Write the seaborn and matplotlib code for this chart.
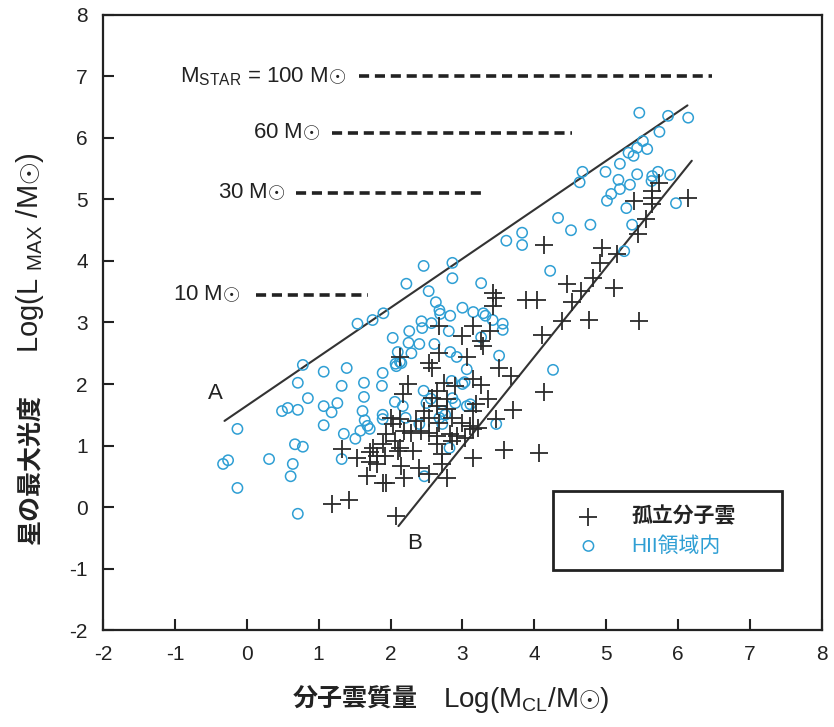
import matplotlib
matplotlib.use('Agg')
import matplotlib.pyplot as plt
import pandas as pd
import seaborn as sns

# isolated molecular clouds (+)
iso_x = [2.01, 1.94, 2.06, 1.33, 1.89, 1.75, 1.71, 1.54, 1.81, 1.92, 1.72, 1.81, 1.67,
         1.89, 1.94, 1.18, 1.42, 2.10, 3.42, 3.47, 3.42, 2.68, 3.15, 2.99, 3.38, 3.26,
         3.28, 3.06, 2.13, 2.54, 2.57, 3.51, 2.24, 2.75, 2.89, 3.14, 3.26, 2.17, 2.65,
         2.78, 2.58, 3.19, 3.35, 2.47, 2.79, 2.86, 3.14, 2.13, 2.03, 2.36, 2.54, 2.68,
         2.99, 3.10, 3.14, 3.21, 3.47, 2.19, 2.29, 2.54, 2.65, 2.82, 3.03, 2.13, 2.15,
         2.31, 2.40, 2.64, 2.72, 2.72, 3.14, 3.58, 2.19, 2.54, 2.78, 2.67, 3.67, 2.65,
         3.71, 2.43, 2.93, 2.85, 5.74, 5.64, 5.64, 5.39, 6.14, 5.63, 5.56, 5.44, 4.14,
         4.94, 5.15, 4.92, 4.81, 4.46, 4.65, 5.11, 4.53, 3.89, 4.03, 4.39, 4.76, 5.46,
         4.11, 2.07, 4.07, 4.13]
iso_y = [1.45, 1.19, 1.07, 0.94, 1.02, 0.96, 0.89, 0.80, 0.83, 0.83, 0.73, 0.70, 0.50,
         0.39, 0.39, 0.05, 0.11, 0.91, 3.48, 3.40, 3.27, 2.94, 2.94, 2.78, 2.86, 2.70,
         2.62, 2.44, 2.44, 2.34, 2.26, 2.26, 2.00, 2.02, 1.97, 2.08, 1.98, 1.84, 1.89,
         1.76, 1.77, 1.67, 1.76, 1.56, 1.59, 1.45, 1.56, 1.43, 1.35, 1.40, 1.45, 1.37,
         1.37, 1.32, 1.27, 1.28, 1.43, 1.24, 1.20, 1.20, 1.15, 1.19, 1.12, 0.96, 0.67,
         0.91, 0.63, 1.02, 0.86, 0.70, 0.80, 0.93, 0.47, 0.54, 0.47, 2.50, 2.13, 1.64,
         1.58, 1.24, 1.15, 1.07, 5.27, 5.14, 5.02, 4.98, 5.02, 4.93, 4.68, 4.44, 4.26,
         4.21, 4.11, 3.97, 3.72, 3.63, 3.51, 3.56, 3.33, 3.37, 3.37, 3.02, 3.04, 3.02,
         2.80, -0.15, 0.88, 1.87]

# clouds inside HII regions (o)
hii_x = [-0.33, -0.26, -0.13, -0.13, 0.31, 0.64, 0.61, 0.71, 0.67, 0.78, 0.49, 0.57, 0.71,
         0.78, 0.71, 0.85, 1.07, 1.39, 1.32, 1.07, 1.18, 1.26, 1.07, 1.35, 1.32, 1.63,
         1.89, 1.88, 2.03, 2.07, 1.63, 1.61, 2.06, 1.89, 1.89, 1.64, 1.68, 1.71, 1.58,
         1.51, 1.54, 1.75, 1.90, 2.46, 2.86, 2.86, 2.22, 2.53, 3.26, 2.63, 2.68, 2.69,
         3.00, 3.15, 3.29, 3.32, 3.42, 3.56, 3.56, 2.83, 2.43, 2.44, 2.57, 2.81, 2.26,
         2.25, 2.40, 2.61, 3.26, 2.10, 2.29, 2.13, 2.08, 2.15, 2.83, 2.92, 3.51, 3.06,
         3.03, 2.46, 2.56, 2.50, 2.90, 3.06, 3.11, 2.72, 2.76, 2.21, 2.40, 2.72, 2.68,
         3.47, 2.82, 2.47, 2.85, 2.86, 3.00, 2.17, 5.46, 5.86, 6.14, 5.74, 5.51, 5.43,
         5.57, 5.38, 5.31, 5.19, 4.99, 4.67, 4.63, 5.17, 5.19, 5.33, 5.43, 5.64, 5.63,
         5.72, 5.89, 5.07, 5.01, 5.28, 5.97, 5.36, 4.33, 4.51, 4.78, 3.83, 3.83, 3.61,
         4.22, 5.25, 4.26]
hii_y = [0.70, 0.76, 1.27, 0.31, 0.78, 0.70, 0.50, -0.11, 1.02, 0.98, 1.56, 1.61, 1.58,
         2.31, 2.02, 1.77, 2.20, 2.26, 1.97, 1.64, 1.54, 1.69, 1.33, 1.19, 0.78, 2.02,
         2.18, 1.97, 2.75, 2.33, 1.79, 1.56, 1.71, 1.50, 1.43, 1.41, 1.32, 1.27, 1.24,
         1.11, 2.98, 3.04, 3.15, 3.92, 3.97, 3.72, 3.63, 3.51, 3.64, 3.33, 3.20, 3.14,
         3.24, 3.17, 3.15, 3.11, 3.04, 2.98, 2.88, 3.11, 3.02, 2.91, 2.99, 2.86, 2.86,
         2.67, 2.65, 2.65, 2.76, 2.52, 2.50, 2.36, 2.29, 2.34, 2.52, 2.44, 2.46, 2.24,
         2.03, 1.89, 1.76, 1.69, 1.69, 1.64, 1.67, 1.56, 1.50, 1.45, 1.35, 1.35, 1.45,
         1.35, 0.96, 0.50, 2.05, 1.77, 2.00, 1.64, 6.41, 6.36, 6.33, 6.10, 5.95, 5.84,
         5.82, 5.71, 5.76, 5.58, 5.45, 5.45, 5.28, 5.32, 5.17, 5.24, 5.41, 5.38, 5.30,
         5.45, 5.40, 5.09, 4.98, 4.86, 4.94, 4.59, 4.70, 4.50, 4.59, 4.46, 4.26, 4.33,
         3.84, 4.16, 2.23]

# boundary lines A and B
line_a_x = [-0.31, 6.13]
line_a_y = [1.40, 6.53]
line_b_x = [2.11, 6.19]
line_b_y = [-0.31, 5.63]

# maximum luminosity of a star of given mass
mstar_labels = ['100', '60', '30', '10']
mstar_level = [7.0, 6.08, 5.11, 3.45]
mstar_start = [1.56, 1.19, 0.69, 0.13]
mstar_end = [6.47, 4.53, 3.26, 1.68]
mstar_text_x = [1.38, 1.03, 0.54, -0.09]

CROSS_COLOR = '#2b2b2b'
CIRCLE_COLOR = '#2f9fd4'
SUN = r'M$\odot$'


def _main():
    sns.set_style('white')
    plt.rcParams['font.family'] = ['Liberation Sans', 'DejaVu Sans', 'Noto Sans CJK JP']
    plt.rcParams['mathtext.fontset'] = 'custom'
    plt.rcParams['mathtext.rm'] = 'Liberation Sans'
    plt.rcParams['axes.unicode_minus'] = False

    fig = plt.figure(figsize=(8.34, 7.27), dpi=100)
    ax = fig.add_axes([0.1235, 0.1334, 0.862, 0.846])

    iso = pd.DataFrame({'x': iso_x, 'y': iso_y})
    hii = pd.DataFrame({'x': hii_x, 'y': hii_y})

    sns.scatterplot(data=hii, x='x', y='y', ax=ax, marker='o', s=55,
                    facecolor='none', edgecolor=CIRCLE_COLOR, linewidth=1.1,
                    label='HII領域内', zorder=3)
    sns.scatterplot(data=iso, x='x', y='y', ax=ax, marker='+', s=170,
                    color=CROSS_COLOR, linewidth=1.3, label='孤立分子雲', zorder=4)

    sns.lineplot(x=line_a_x, y=line_a_y, ax=ax, color='#333333', linewidth=1.5)
    sns.lineplot(x=line_b_x, y=line_b_y, ax=ax, color='#333333', linewidth=1.5)

    for lev, x0, x1 in zip(mstar_level, mstar_start, mstar_end):
        ax.plot([x0, x1], [lev, lev], color='#222222', linewidth=2.6,
                linestyle=(0, (2.8, 1.6)))
    for i, (lab, tx, lev) in enumerate(zip(mstar_labels, mstar_text_x, mstar_level)):
        lab = lab + ' ' + SUN
        if i == 0:
            lab = r'M$_{\mathregular{STAR}}$ = ' + lab
        ax.text(tx, lev, lab, ha='right', va='center', fontsize=16, color='#222222')

    ax.text(-0.44, 1.84, 'A', fontsize=16, ha='center', va='center', color='#222222')
    ax.text(2.33, -0.60, 'B', fontsize=16, ha='center', va='center', color='#222222')

    ax.set_xlim(-2, 8)
    ax.set_ylim(-2, 8)
    ax.set_xticks(range(-2, 9))
    ax.set_yticks(range(-2, 9))
    ax.set_xlabel('')
    ax.set_ylabel('')
    ax.tick_params(direction='in', length=8, width=1.5, labelsize=15, pad=11,
                   colors='#222222', bottom=True, left=True)
    for sp in ax.spines.values():
        sp.set_linewidth(1.6)
        sp.set_color('#222222')

    # legend
    handles, labels = ax.get_legend_handles_labels()
    leg = ax.legend(handles[::-1], labels[::-1], loc='lower left',
                    bbox_to_anchor=(0.626, 0.0976, 0.318, 0.127), mode='expand',
                    borderaxespad=0, fontsize=15, frameon=True, fancybox=False,
                    framealpha=1, edgecolor='#222222', borderpad=0.7,
                    handlelength=2.0, handletextpad=1.05, labelspacing=0.45)
    leg.get_frame().set_linewidth(2.0)
    texts = leg.get_texts()
    texts[0].set_fontweight('bold')
    texts[0].set_color('#222222')
    texts[1].set_color(CIRCLE_COLOR)

    # axis titles
    fig.text(0.426, 0.037, '分子雲質量', fontsize=18, fontweight='bold',
             ha='center', va='center', color='#222222')
    fig.text(0.631, 0.037, r'Log(M$_{\mathregular{CL}}$/' + SUN + ')', fontsize=20,
             ha='center', va='center', color='#222222')
    fig.text(0.036, 0.353, '星の最大光度', fontsize=18, fontweight='bold',
             rotation=90, ha='center', va='center', color='#222222')
    fig.text(0.036, 0.653, r'Log(L $_{\mathregular{MAX}}$ /' + SUN + ')', fontsize=21,
             rotation=90, ha='center', va='center', color='#222222')

    fig.savefig('out.png', dpi=100)
    plt.close(fig)


if __name__ == '__main__':
    _main()
